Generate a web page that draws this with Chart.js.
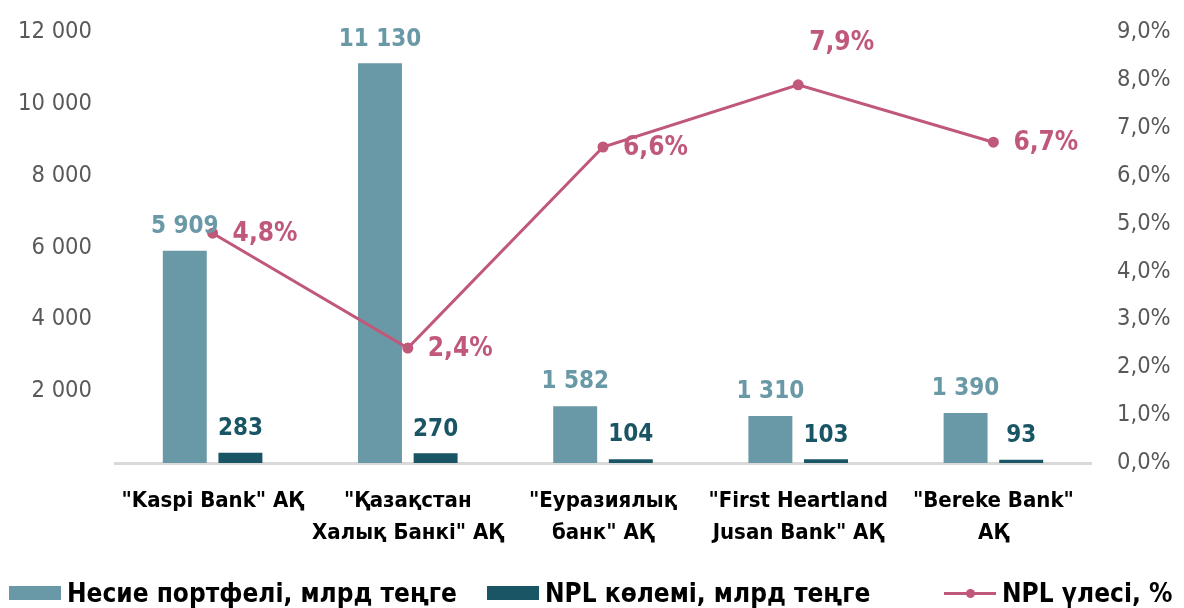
<!DOCTYPE html>
<html>
<head>
<meta charset="utf-8">
<script src="https://cdn.jsdelivr.net/npm/chart.js@4/dist/chart.umd.min.js"></script>
<style>
  body { margin: 0; background: #fff; }
  #wrap { position: relative; width: 1184px; height: 608px; }
  #legend { position: absolute; left: 0; top: 579px; width: 1184px; height: 28px;
    font-family: "DejaVu Sans Condensed", "DejaVu Sans", sans-serif; font-weight: bold; font-size: 26px; color: #000; }
  .item { position: absolute; top: 0; white-space: nowrap; line-height: 28px; }
  .box { display: inline-block; width: 52px; height: 14px; vertical-align: middle; margin-right: 6px; position: relative; top: -2px; }
  .ln { display: inline-block; width: 52px; height: 14px; vertical-align: middle; margin-right: 6px; position: relative; top: -2px; }
  .ln:before { content: ""; position: absolute; left: 0; right: 0; top: 6px; height: 3px; background: #C0587A; }
  .ln:after { content: ""; position: absolute; left: 22px; top: 3px; width: 9px; height: 9px; border-radius: 50%; background: #C0587A; }
</style>
</head>
<body>
<div id="wrap">
  <canvas id="myChart" width="1184" height="608"></canvas>
  <div id="legend"></div>
</div>
<script>
const banks = [
  ['"Kaspi Bank" АҚ'],
  ['"Қазақстан', 'Халық Банкі" АҚ'],
  ['"Еуразиялық', 'банк" АҚ'],
  ['"First Heartland', 'Jusan Bank" АҚ'],
  ['"Bereke Bank"', 'АҚ']
];
const loanPortfolio = [5909, 11130, 1582, 1310, 1390];
const nplVolume = [283, 270, 104, 103, 93];
const nplShare = [4.8, 2.4, 6.6, 7.9, 6.7];

const seriesNames = ['Несие портфелі, млрд теңге', 'NPL көлемі, млрд теңге', 'NPL үлесі, %'];

const colLoan = '#6999A6';
const colNpl = '#1A5566';
const colShare = '#C0587A';

const tickFont = '"DejaVu Sans Condensed", "DejaVu Sans", sans-serif';
const catFont = '"Liberation Sans Narrow", "DejaVu Sans Condensed", sans-serif';

function fmt(v) {
  return v.toString().replace(/\B(?=(\d{3})+(?!\d))/g, ' ');
}
function pct(v) {
  return v.toFixed(1).replace('.', ',') + '%';
}

// where the share label sits relative to its point
const shareLabelSide = ['right', 'right', 'right', 'above', 'right'];

const labelPlugin = {
  id: 'valueLabels',
  afterDatasetsDraw(chart) {
    const ctx = chart.ctx;
    ctx.save();
    ctx.textBaseline = 'middle';
    chart.data.datasets.forEach((ds, i) => {
      const meta = chart.getDatasetMeta(i);
      meta.data.forEach((el, j) => {
        const v = ds.data[j];
        if (ds.type === 'line') {
          ctx.font = 'bold 26px ' + tickFont;
          ctx.fillStyle = colShare;
          ctx.textAlign = 'left';
          if (shareLabelSide[j] === 'above') {
            ctx.fillText(pct(v), el.x + 11, el.y - 42);
          } else {
            ctx.fillText(pct(v), el.x + 20, el.y + 1);
          }
        } else {
          ctx.font = 'bold 24px ' + tickFont;
          ctx.fillStyle = i === 0 ? colLoan : colNpl;
          ctx.textAlign = 'center';
          ctx.fillText(fmt(v), el.x, el.y - 24);
        }
      });
    });
    ctx.restore();
  }
};

const ctx = document.getElementById('myChart').getContext('2d');
const myChart = new Chart(ctx, {
  data: {
    labels: banks,
    datasets: [
      {
        type: 'bar',
        label: seriesNames[0],
        data: loanPortfolio,
        backgroundColor: colLoan,
        yAxisID: 'y',
        order: 2,
        categoryPercentage: 0.57,
        barPercentage: 0.79
      },
      {
        type: 'bar',
        label: seriesNames[1],
        data: nplVolume,
        backgroundColor: colNpl,
        yAxisID: 'y',
        order: 2,
        categoryPercentage: 0.57,
        barPercentage: 0.79
      },
      {
        type: 'line',
        label: seriesNames[2],
        data: nplShare,
        borderColor: colShare,
        backgroundColor: colShare,
        borderWidth: 3,
        pointRadius: 4,
        pointHoverRadius: 4,
        yAxisID: 'y1',
        order: 0
      }
    ]
  },
  options: {
    responsive: false,
    animation: false,
    layout: { padding: { top: 4, bottom: 40, left: 0, right: 0 } },
    plugins: {
      legend: { display: false },
      tooltip: { enabled: false }
    },
    scales: {
      x: {
        grid: { display: false, drawTicks: false },
        border: { display: true, color: '#D9D9D9', width: 3 },
        ticks: {
          color: '#000',
          padding: 22,
          maxRotation: 0,
          autoSkip: false,
          font: { family: catFont, size: 22, weight: 'bold', lineHeight: 1.45 }
        },
        afterFit(scale) { scale.height = 105; }
      },
      y: {
        position: 'left',
        min: 0,
        max: 12000,
        grid: { display: false },
        border: { display: false },
        ticks: {
          stepSize: 2000,
          color: '#595959',
          padding: 15,
          font: { family: tickFont, size: 23.5 },
          callback: v => v === 0 ? '' : fmt(v)
        },
        afterFit(scale) { scale.width = 115; }
      },
      y1: {
        position: 'right',
        min: 0,
        max: 9,
        grid: { display: false },
        border: { display: false },
        ticks: {
          stepSize: 1,
          color: '#595959',
          padding: 18,
          font: { family: tickFont, size: 23.5 },
          callback: v => pct(v)
        },
        afterFit(scale) { scale.width = 93; }
      }
    }
  },
  plugins: [labelPlugin]
});

// legend built from the dataset names
const legend = document.getElementById('legend');
const legendLeft = [9, 487, 944];
seriesNames.forEach((name, i) => {
  const item = document.createElement('div');
  item.className = 'item';
  item.style.left = legendLeft[i] + 'px';
  const mark = document.createElement('span');
  if (i < 2) {
    mark.className = 'box';
    mark.style.background = i === 0 ? colLoan : colNpl;
  } else {
    mark.className = 'ln';
  }
  item.appendChild(mark);
  item.appendChild(document.createTextNode(name));
  legend.appendChild(item);
});
</script>
</body>
</html>
